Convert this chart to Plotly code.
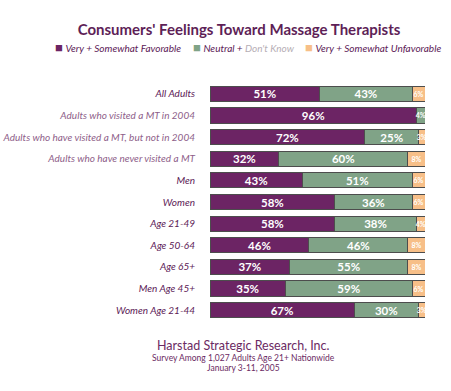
import plotly.graph_objects as go

categories = ["All Adults", "Adults who visited a MT in 2004",
              "Adults who have visited a MT, but not in 2004",
              "Adults who have never visited a MT", "Men", "Women",
              "Age 21-49", "Age 50-64", "Age 65+", "Men Age 45+", "Women Age 21-44"]
favorable = [51, 96, 72, 32, 43, 58, 58, 46, 37, 35, 67]
neutral = [43, 4, 25, 60, 51, 36, 38, 46, 55, 59, 30]
unfavorable = [6, 0, 3, 8, 6, 6, 4, 8, 8, 6, 3]
light_labels = {"Adults who visited a MT in 2004",
                "Adults who have visited a MT, but not in 2004",
                "Adults who have never visited a MT"}

DARK = "#5c2056"
LIGHT = "#8e6089"
FONT = "Lato"
W, H = 451, 391
ML, MR, MT, MB = 210, 26, 83, 70

ticktext = [f"<span style='color:{LIGHT if c in light_labels else DARK}'>{c}</span>" for c in categories]

def sizes(vals):
    return [11.5 if v >= 10 else 7 for v in vals]

def texts(vals):
    return [f"{v}%" if v > 0 else "" for v in vals]

series = [
    ("Very + Somewhat Favorable", "Very + Somewhat Favorable", favorable, "#6c2464"),
    ("Neutral + Don't Know", "Neutral + <span style='color:#b5adb4'>Don't Know</span>", neutral, "#80a387"),
    ("Very + Somewhat Unfavorable", "Very + Somewhat Unfavorable", unfavorable, "#f7bf88"),
]

fig = go.Figure()
for name, _, vals, color in series:
    fig.add_trace(go.Bar(
        y=categories, x=vals, orientation="h", name=name, showlegend=False,
        marker=dict(color=color, line=dict(color="#4d4d4d", width=1)),
        text=texts(vals), textposition="inside", insidetextanchor="middle",
        textangle=0, constraintext="none",
        textfont=dict(family=FONT, color="white", size=sizes(vals), weight="bold"),
        hoverinfo="skip",
    ))

# legend row (text entries with coloured squares)
legend_x = [53, 191, 303]
legend_y = 46.5
for (name, label, vals, color), lx in zip(series, legend_x):
    fig.add_annotation(
        text=f"<span style='color:{color};font-size:13px'>■</span> <i>{label}</i>",
        xref="paper", yref="paper",
        x=(lx - ML) / (W - ML - MR), y=(H - MB - legend_y) / (H - MT - MB),
        xanchor="left", yanchor="middle", showarrow=False,
        font=dict(family=FONT, size=10, color=DARK))

fig.update_layout(
    width=W, height=H,
    barmode="stack", bargap=0.3,
    margin=dict(l=ML, r=MR, t=MT, b=MB, autoexpand=False),
    plot_bgcolor="white", paper_bgcolor="white",
    showlegend=False,
    title=dict(text="<b>Consumers' Feelings Toward Massage Therapists</b>",
               x=239 / W, xanchor="center", y=1 - 30 / H, yanchor="middle",
               font=dict(family=FONT, size=15, color="#5e1f57")),
    xaxis=dict(range=[0, 100], visible=False, fixedrange=True),
    yaxis=dict(autorange="reversed", tickmode="array", tickvals=categories,
               ticktext=ticktext, ticks="", ticklabelstandoff=14,
               showline=False, showgrid=False, automargin=False,
               tickfont=dict(family=FONT, size=10, color=DARK, style="italic")),
)

footer = [
    ("Harstad Strategic Research, Inc.", 345, 12.5),
    ("Survey Among 1,027 Adults Age 21+ Nationwide", 357.5, 8.5),
    ("January 3-11, 2005", 367.5, 8.5),
]
for txt, py, sz in footer:
    fig.add_annotation(text=txt, xref="paper", yref="paper",
                       x=(243 - ML) / (W - ML - MR), y=(H - MB - py) / (H - MT - MB),
                       xanchor="center", yanchor="middle", showarrow=False,
                       font=dict(family=FONT, size=sz, color="#6b2a63"))

fig.write_html("out.html", config={"displayModeBar": False},
               post_script="document.body.style.margin='0';document.body.style.overflow='hidden';")
